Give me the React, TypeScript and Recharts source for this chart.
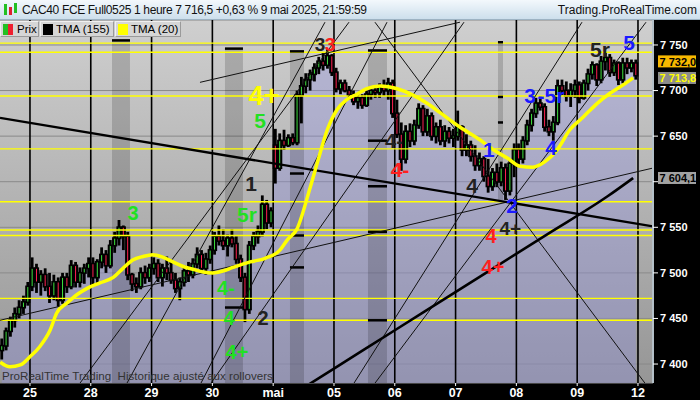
import React from 'react';
import {
  ComposedChart, Bar, Line, Area, Scatter, XAxis, YAxis, CartesianGrid,
  ReferenceLine, ReferenceArea,
} from 'recharts';

const DAY_LABELS = ['25', '28', '29', '30', 'mai', '05', '06', '07', '08', '09', '12'];
const PRICE_TICKS = [7400, 7450, 7500, 7550, 7600, 7650, 7700, 7750];
const HIDDEN_TICK = 7600; // covered by the TMA (155) tag

// hourly bars [open, high, low, close]
const APR24 = [
  [7415, 7428, 7405, 7420], [7420, 7440, 7415, 7436], [7436, 7452, 7430, 7448], [7448, 7462, 7440, 7455],
  [7455, 7470, 7450, 7462], [7462, 7475, 7455, 7468], [7468, 7490, 7464, 7485],
];
const APR25 = [
  [7485, 7517, 7480, 7505], [7505, 7510, 7478, 7490], [7490, 7503, 7475, 7498], [7498, 7505, 7480, 7485],
  [7485, 7500, 7467, 7475], [7475, 7498, 7470, 7490], [7490, 7495, 7463, 7470], [7470, 7500, 7466, 7495],
  [7495, 7500, 7478, 7485], [7485, 7514, 7482, 7508], [7508, 7512, 7484, 7490], [7490, 7506, 7484, 7500],
  [7500, 7510, 7488, 7505], [7505, 7517, 7495, 7510],
];
const APR28 = [
  [7510, 7517, 7485, 7495], [7495, 7515, 7488, 7512], [7512, 7528, 7505, 7520], [7520, 7525, 7500, 7508],
  [7508, 7536, 7505, 7530], [7530, 7545, 7522, 7538], [7538, 7558, 7530, 7550], [7550, 7552, 7525, 7540],
  [7540, 7545, 7492, 7498], [7498, 7500, 7480, 7488], [7488, 7495, 7478, 7485], [7485, 7506, 7482, 7500],
  [7500, 7508, 7488, 7495], [7495, 7510, 7490, 7505],
];
const APR29 = [
  [7505, 7517, 7498, 7510], [7510, 7515, 7490, 7495], [7495, 7510, 7485, 7505], [7505, 7518, 7492, 7500],
  [7500, 7512, 7488, 7492], [7492, 7500, 7478, 7483], [7483, 7495, 7470, 7490], [7490, 7508, 7485, 7502],
  [7502, 7512, 7490, 7498], [7498, 7516, 7494, 7510], [7510, 7528, 7505, 7520], [7520, 7525, 7500, 7505],
  [7505, 7522, 7498, 7515], [7515, 7530, 7510, 7525],
];
const APR30 = [
  [7525, 7545, 7520, 7540], [7540, 7552, 7530, 7535], [7535, 7548, 7525, 7530], [7530, 7542, 7518, 7538],
  [7538, 7548, 7528, 7532], [7532, 7540, 7510, 7515], [7515, 7520, 7490, 7495], [7495, 7500, 7446, 7460],
  [7460, 7535, 7455, 7530], [7530, 7545, 7525, 7540], [7540, 7552, 7532, 7545], [7545, 7585, 7540, 7575],
  [7575, 7580, 7548, 7555], [7555, 7572, 7550, 7568],
];
const MAY01 = [
  [7640, 7658, 7598, 7615], [7615, 7653, 7612, 7645], [7645, 7657, 7635, 7640], [7640, 7652, 7638, 7648],
  [7648, 7653, 7640, 7643], [7643, 7700, 7640, 7695], [7695, 7715, 7664, 7705], [7705, 7719, 7697, 7712],
  [7712, 7723, 7700, 7718], [7718, 7730, 7710, 7725], [7725, 7737, 7718, 7732], [7732, 7741, 7722, 7728],
  [7728, 7745, 7724, 7738], [7738, 7740, 7716, 7720],
];
const MAY05 = [
  [7720, 7725, 7698, 7702], [7702, 7712, 7696, 7708], [7708, 7712, 7698, 7700], [7700, 7705, 7690, 7695],
  [7695, 7700, 7684, 7688], [7688, 7697, 7680, 7692], [7692, 7696, 7680, 7684], [7684, 7700, 7682, 7696],
  [7696, 7705, 7690, 7700], [7700, 7706, 7692, 7698], [7698, 7708, 7692, 7704], [7704, 7712, 7694, 7700],
  [7700, 7714, 7690, 7708], [7708, 7712, 7670, 7675],
];
const MAY06 = [
  [7675, 7690, 7648, 7652], [7652, 7665, 7612, 7625], [7625, 7662, 7620, 7655], [7655, 7664, 7638, 7645],
  [7645, 7668, 7640, 7662], [7662, 7686, 7658, 7680], [7680, 7684, 7650, 7655], [7655, 7680, 7650, 7672],
  [7672, 7676, 7645, 7650], [7650, 7665, 7642, 7660], [7660, 7668, 7640, 7645], [7645, 7662, 7638, 7655],
  [7655, 7660, 7642, 7648], [7648, 7658, 7638, 7650],
];
const MAY07 = [
  [7650, 7678, 7645, 7660], [7660, 7662, 7628, 7635], [7635, 7652, 7628, 7640], [7640, 7645, 7622, 7628],
  [7628, 7640, 7612, 7618], [7618, 7632, 7612, 7625], [7625, 7628, 7600, 7606], [7606, 7625, 7588, 7595],
  [7595, 7615, 7590, 7610], [7610, 7620, 7594, 7600], [7600, 7622, 7595, 7615], [7615, 7620, 7580, 7590],
  [7590, 7625, 7585, 7620], [7620, 7642, 7605, 7635],
];
const MAY08 = [
  [7635, 7642, 7618, 7625], [7625, 7650, 7620, 7645], [7645, 7668, 7640, 7662], [7662, 7680, 7655, 7675],
  [7675, 7692, 7670, 7686], [7686, 7694, 7678, 7682], [7682, 7686, 7655, 7660], [7660, 7668, 7650, 7655],
  [7655, 7672, 7645, 7665], [7665, 7712, 7662, 7705], [7705, 7712, 7695, 7700], [7700, 7710, 7688, 7694],
  [7694, 7708, 7682, 7700], [7700, 7712, 7692, 7706],
];
const MAY09 = [
  [7706, 7710, 7686, 7692], [7692, 7712, 7690, 7708], [7708, 7724, 7700, 7718], [7718, 7732, 7712, 7728],
  [7728, 7730, 7705, 7712], [7712, 7738, 7708, 7732], [7732, 7742, 7722, 7736], [7736, 7740, 7715, 7720],
  [7720, 7734, 7716, 7730], [7730, 7732, 7706, 7712], [7712, 7736, 7708, 7730], [7730, 7736, 7718, 7725],
  [7725, 7734, 7720, 7730], [7730, 7734, 7712, 7716.5],
];
const SESSIONS = [APR25, APR28, APR29, APR30, MAY01, MAY05, MAY06, MAY07, MAY08, MAY09];
const BARS_PER_DAY = 14;

// moving averages [day position, value]
const TMA20 = [
  [-0.49, 7402], [-0.33, 7397], [-0.16, 7399], [0, 7408], [0.16, 7419], [0.33, 7437], [0.44, 7456],
  [0.61, 7467], [0.77, 7476], [0.94, 7483], [1.15, 7489], [1.37, 7495], [1.53, 7505], [1.69, 7514],
  [1.86, 7518], [2.02, 7520], [2.19, 7517], [2.35, 7512], [2.52, 7507], [2.68, 7504], [2.85, 7501],
  [3.01, 7500], [3.17, 7502], [3.34, 7506], [3.62, 7512], [3.87, 7516], [4.11, 7525], [4.23, 7536],
  [4.39, 7548], [4.61, 7594], [4.74, 7624], [4.89, 7657], [5.05, 7679], [5.21, 7690], [5.38, 7696],
  [5.54, 7702], [5.76, 7705], [6.04, 7702], [6.3, 7695], [6.53, 7686], [6.74, 7676], [7.07, 7660],
  [7.4, 7646], [7.62, 7635], [7.85, 7626], [8.06, 7617], [8.27, 7616], [8.47, 7622], [8.67, 7635],
  [8.88, 7657], [9.1, 7671], [9.33, 7686], [9.54, 7697], [9.75, 7706], [9.92, 7714],
];
const TMA155 = [[4.5, 7374], [5.5, 7416], [6.5, 7458], [7.5, 7500], [8.5, 7542], [9.5, 7584], [9.92, 7604]];

const YELLOW_LEVELS = [7752, 7742, 7694, 7636, 7578, 7547, 7541, 7472, 7448];

// trend lines [[x1, y1], [x2, y2]]
const THICK_LINES = [[[-0.493, 7670], [10.247, 7551]]];
const THIN_LINES = [
  [[-0.493, 7448], [10.247, 7615]],
  [[2.796, 7709], [7.072, 7775]],
  [[0.822, 7379], [5.247, 7775]],
  [[1.595, 7379], [4.852, 7775]],
  [[2.812, 7379], [5.872, 7775]],
  [[2.977, 7379], [7.138, 7775]],
  [[5.329, 7379], [9.079, 7775]],
  [[5.674, 7379], [10.132, 7775]],
  [[5.674, 7775], [10.115, 7379]],
];

// shaded session bands [from, to, top, bottom]
const BANDS = [
  [1.349, 1.645, 7755, 7379], [3.207, 3.503, 7746, 7379], [4.276, 4.507, 7743, 7379],
  [5.559, 5.872, 7744, 7379], [7.697, 7.78, 7753, 7580],
];
// [band index, level]
const BAND_MARKS = [
  [0, 7755], [1, 7746], [1, 7462], [2, 7743], [2, 7609], [2, 7541], [2, 7506], [3, 7744], [3, 7645],
  [3, 7595], [3, 7545], [3, 7448], [4, 7753], [4, 7693], [4, 7665],
];

const WAVE_LABELS = [
  { t: 1.694, p: 7566, text: '3', color: '#22e022', size: 20 },
  { t: 3.849, p: 7694, text: '4+', color: '#ffff00', size: 27 },
  { t: 3.783, p: 7667, text: '5', color: '#22e022', size: 21 },
  { t: 3.635, p: 7598, text: '1', color: '#222', size: 21 },
  { t: 3.569, p: 7564, text: '5r', color: '#22e022', size: 21 },
  { t: 4.77, p: 7750, text: '3', color: '#222', size: 19 },
  { t: 4.934, p: 7750, text: '3', color: '#ff2020', size: 19 },
  { t: 3.224, p: 7483, text: '4-', color: '#22e022', size: 20 },
  { t: 3.273, p: 7450, text: '4', color: '#22e022', size: 20 },
  { t: 3.832, p: 7450, text: '2', color: '#222', size: 20 },
  { t: 3.405, p: 7413, text: '4+', color: '#22e022', size: 20 },
  { t: 5.987, p: 7645, text: '4-', color: '#222', size: 20 },
  { t: 6.086, p: 7613, text: '4-', color: '#ff2020', size: 21 },
  { t: 7.27, p: 7596, text: '4', color: '#222', size: 21 },
  { t: 7.549, p: 7635, text: '1', color: '#1a1aff', size: 21 },
  { t: 7.928, p: 7574, text: '2', color: '#1a1aff', size: 21 },
  { t: 7.9, p: 7549, text: '4+', color: '#222', size: 19 },
  { t: 7.583, p: 7541, text: '4', color: '#ff2020', size: 20 },
  { t: 7.615, p: 7506, text: '4+', color: '#ff2020', size: 20 },
  { t: 8.224, p: 7695, text: '3', color: '#1a1aff', size: 21 },
  { t: 8.569, p: 7695, text: '-5r', color: '#1a1aff', size: 21 },
  { t: 8.569, p: 7637, text: '4', color: '#1a1aff', size: 21 },
  { t: 9.375, p: 7745, text: '5r', color: '#222', size: 21 },
  { t: 9.852, p: 7753, text: '5', color: '#1a1aff', size: 21 },
];

const PRICE_TAGS = [
  { p: 7732.0, bg: '#f7b800', fg: '#000' },
  { p: 7713.8, bg: '#8c8c8c', fg: '#ffff00' },
  { p: 7604.1, bg: '#a2a2a2', fg: '#000' },
];

const candles: any[] = [];
APR24.forEach((b, i) => candles.push(toRow(-1, BARS_PER_DAY - APR24.length + i, b)));
SESSIONS.forEach((day, d) => day.forEach((b, k) => candles.push(toRow(d, k, b))));

function toRow(day: number, k: number, b: number[]) {
  const [o, h, l, c] = b;
  return { t: day + (k + 0.5) / BARS_PER_DAY, o, h, l, c, range: [l, h] };
}

const tma20Rows = TMA20.map(([t, v]) => ({ t, v }));
const tma155Rows = TMA155.map(([t, v]) => ({ t, v }));
const labelRows = WAVE_LABELS.map((l) => ({ ...l }));

const fmtPrice = (v: number) => (v === HIDDEN_TICK ? '' : String(v).replace(/^(\d)(\d{3})$/, '$1 $2'));
const fmtTag = (v: number) => v.toFixed(1).replace('.', ',').replace(/^(\d)(\d{3})/, '$1 $2');

const FONT = '"Liberation Sans", Arial, sans-serif';

const Candle = (props: any) => {
  const { x, y, width, height, payload } = props;
  if (!payload || x == null) return null;
  const top = Math.min(y, y + height);
  const h = Math.abs(height);
  const span = payload.h - payload.l || 1;
  const py = (p: number) => top + ((payload.h - p) / span) * h;
  const cx = x + width / 2;
  const bTop = py(Math.max(payload.o, payload.c));
  const bBot = py(Math.min(payload.o, payload.c));
  const up = payload.c >= payload.o;
  return (
    <g>
      <rect x={cx - 1.4} y={top} width={2.8} height={Math.max(h, 1)} fill="#000" />
      <rect x={cx - 2.6} y={bTop - 1} width={5.2} height={Math.max(bBot - bTop + 2, 2)} fill="#000" />
      {bBot - bTop > 1 && (
        <line x1={cx} x2={cx} y1={bTop + 0.5} y2={bBot - 0.5} stroke={up ? '#3ee03e' : '#ff2050'} strokeWidth={1} />
      )}
    </g>
  );
};

const WaveLabel = (props: any) => {
  const { cx, cy, payload } = props;
  if (cx == null || !payload) return null;
  return (
    <text x={cx} y={cy} textAnchor="middle" dominantBaseline="central" fontFamily={FONT}
      fontWeight="bold" fontSize={payload.size} fill={payload.color}>
      {payload.text}
    </text>
  );
};

const tagLabel = (tag: any) => (props: any) => {
  const vb = props.viewBox;
  if (!vb) return null;
  const x = vb.x + vb.width + 5;
  return (
    <g>
      <rect x={x} y={vb.y - 6} width={38} height={12} fill={tag.bg} />
      <text x={x + 1.5} y={vb.y + 0.5} dominantBaseline="central" fontFamily={FONT} fontWeight="bold"
        fontSize={11} fill={tag.fg}>{fmtTag(tag.p)}</text>
    </g>
  );
};

const LegendBox = ({ left, width, children }: any) => (
  <div style={{
    position: 'absolute', left, top: 21, width, height: 16, background: '#d6d6d6',
    borderTop: '1px solid #f0f0f0', borderLeft: '1px solid #f0f0f0', borderRight: '1px solid #9a9a9a',
    borderBottom: '1px solid #9a9a9a', boxSizing: 'border-box', display: 'flex', alignItems: 'center',
    fontSize: 11.5, color: '#000', fontFamily: FONT, whiteSpace: 'nowrap', overflow: 'hidden',
  }}>{children}</div>
);

export default function App() {
  return (
    <div style={{ position: 'absolute', left: 0, top: 0, width: 700, height: 400, background: '#000', overflow: 'hidden', fontFamily: FONT }}>
      <div style={{
        position: 'absolute', left: 0, top: 0, width: 700, height: 20,
        background: 'linear-gradient(#f3f8fc, #cddfec)', borderBottom: '1px solid #9db3c3', boxSizing: 'border-box',
      }}>
        <div style={{ position: 'absolute', left: 4, top: 4, width: 3, height: 11, background: '#22c022' }} />
        <div style={{ position: 'absolute', left: 9, top: 7, width: 3, height: 8, background: '#e02030' }} />
        <div style={{ position: 'absolute', left: 14, top: 3, width: 3, height: 10, background: '#22c022' }} />
        <div style={{ position: 'absolute', left: 22, top: 3, fontSize: 12, letterSpacing: -0.35, color: '#111', whiteSpace: 'nowrap' }}>
          CAC40 FCE Full0525 1 heure 7 716,5 +0,63 % 9 mai 2025, 21:59:59
        </div>
        <div style={{ position: 'absolute', right: 3, top: 3, fontSize: 12, color: '#111', whiteSpace: 'nowrap' }}>
          Trading.ProRealTime.com
        </div>
      </div>

      <div style={{ position: 'absolute', left: 0, top: 20 }}>
        <ComposedChart width={700} height={380} data={candles} margin={{ top: 0, right: 0, bottom: 0, left: 0 }}>
          <defs>
            <linearGradient id="plotBg" x1="0" y1="0" x2="0" y2="1">
              <stop offset="0%" stopColor="#cfcfcf" />
              <stop offset="100%" stopColor="#969696" />
            </linearGradient>
          </defs>
          <CartesianGrid vertical={false} stroke="#8a8a8a" fill="url(#plotBg)" fillOpacity={1} />
          <XAxis dataKey="t" type="number" domain={[-0.493, 10.247]} allowDataOverflow
            ticks={DAY_LABELS.map((_, i) => i)} interval={0} tickFormatter={(v) => DAY_LABELS[v] ?? ''}
            height={17} axisLine={false} tickLine={{ stroke: '#fff' }} tickSize={3}
            tick={{ fill: '#fff', fontSize: 12.5, fontWeight: 'bold', fontFamily: FONT }} />
          <YAxis orientation="right" type="number" domain={[7379.2, 7777.4]} allowDataOverflow
            ticks={PRICE_TICKS} interval={0} tickFormatter={fmtPrice} width={47}
            axisLine={{ stroke: '#b4c0c8', strokeWidth: 2 }} tickLine={{ stroke: '#fff' }} tickSize={5}
            tick={{ fill: '#fff', fontSize: 11, fontWeight: 'bold', fontFamily: FONT }} />

          <Area dataKey="c" type="linear" stroke="none" fill="#9090e0" fillOpacity={0.36} isAnimationActive={false} />

          {BANDS.map(([x1, x2, y1, y2], i) => (
            <ReferenceArea key={`b${i}`} x1={x1} x2={x2} y1={y2} y2={y1} fill="#000" fillOpacity={0.16}
              stroke="none" ifOverflow="hidden" />
          ))}

          {DAY_LABELS.map((_, i) => (
            <ReferenceLine key={`d${i}`} x={i} stroke="#000" strokeWidth={1.6} />
          ))}

          {YELLOW_LEVELS.map((v) => (
            <ReferenceLine key={`y${v}`} y={v} stroke="#ffff00" strokeWidth={1.4} />
          ))}

          {BAND_MARKS.map(([b, v], i) => (
            <ReferenceLine key={`m${i}`} segment={[{ x: BANDS[b][0], y: v }, { x: BANDS[b][1], y: v }]}
              stroke="#000" strokeWidth={2.5} ifOverflow="hidden" />
          ))}

          {THIN_LINES.map(([a, b], i) => (
            <ReferenceLine key={`l${i}`} segment={[{ x: a[0], y: a[1] }, { x: b[0], y: b[1] }]}
              stroke="#111" strokeWidth={1} ifOverflow="hidden" />
          ))}

          <Bar dataKey="range" barSize={4} shape={<Candle />} isAnimationActive={false} />

          {THICK_LINES.map(([a, b], i) => (
            <ReferenceLine key={`k${i}`} segment={[{ x: a[0], y: a[1] }, { x: b[0], y: b[1] }]}
              stroke="#000" strokeWidth={2.4} ifOverflow="hidden" />
          ))}

          <Line data={tma155Rows} dataKey="v" type="monotone" stroke="#000" strokeWidth={2.6} dot={false}
            isAnimationActive={false} />
          <Line data={tma20Rows} dataKey="v" type="monotone" stroke="#ffff00" strokeWidth={3.5} dot={false}
            isAnimationActive={false} />

          <Scatter data={labelRows} dataKey="p" shape={<WaveLabel />} isAnimationActive={false} />

          {PRICE_TAGS.map((tag) => (
            <ReferenceLine key={`t${tag.p}`} y={tag.p} stroke="none" label={tagLabel(tag)} />
          ))}
        </ComposedChart>
      </div>

      <LegendBox left={0} width={39}>
        <div style={{ width: 5, height: 11, background: '#22c022', marginLeft: 2 }} />
        <div style={{ width: 5, height: 11, background: '#ee2030' }} />
        <span style={{ marginLeft: 4 }}>Prix</span>
      </LegendBox>
      <LegendBox left={40} width={74}>
        <div style={{ width: 10, height: 11, background: '#000', marginLeft: 2, flexShrink: 0 }} />
        <span style={{ marginLeft: 3 }}>TMA (155)</span>
      </LegendBox>
      <LegendBox left={115} width={66}>
        <div style={{ width: 10, height: 11, background: '#ffff00', marginLeft: 2, flexShrink: 0 }} />
        <span style={{ marginLeft: 3 }}>TMA (20)</span>
      </LegendBox>

      <div style={{ position: 'absolute', left: 2, top: 369, fontSize: 11.6, color: '#333', whiteSpace: 'pre' }}>
        {'ProRealTime Trading  Historique ajusté aux rollovers'}
      </div>
    </div>
  );
}
